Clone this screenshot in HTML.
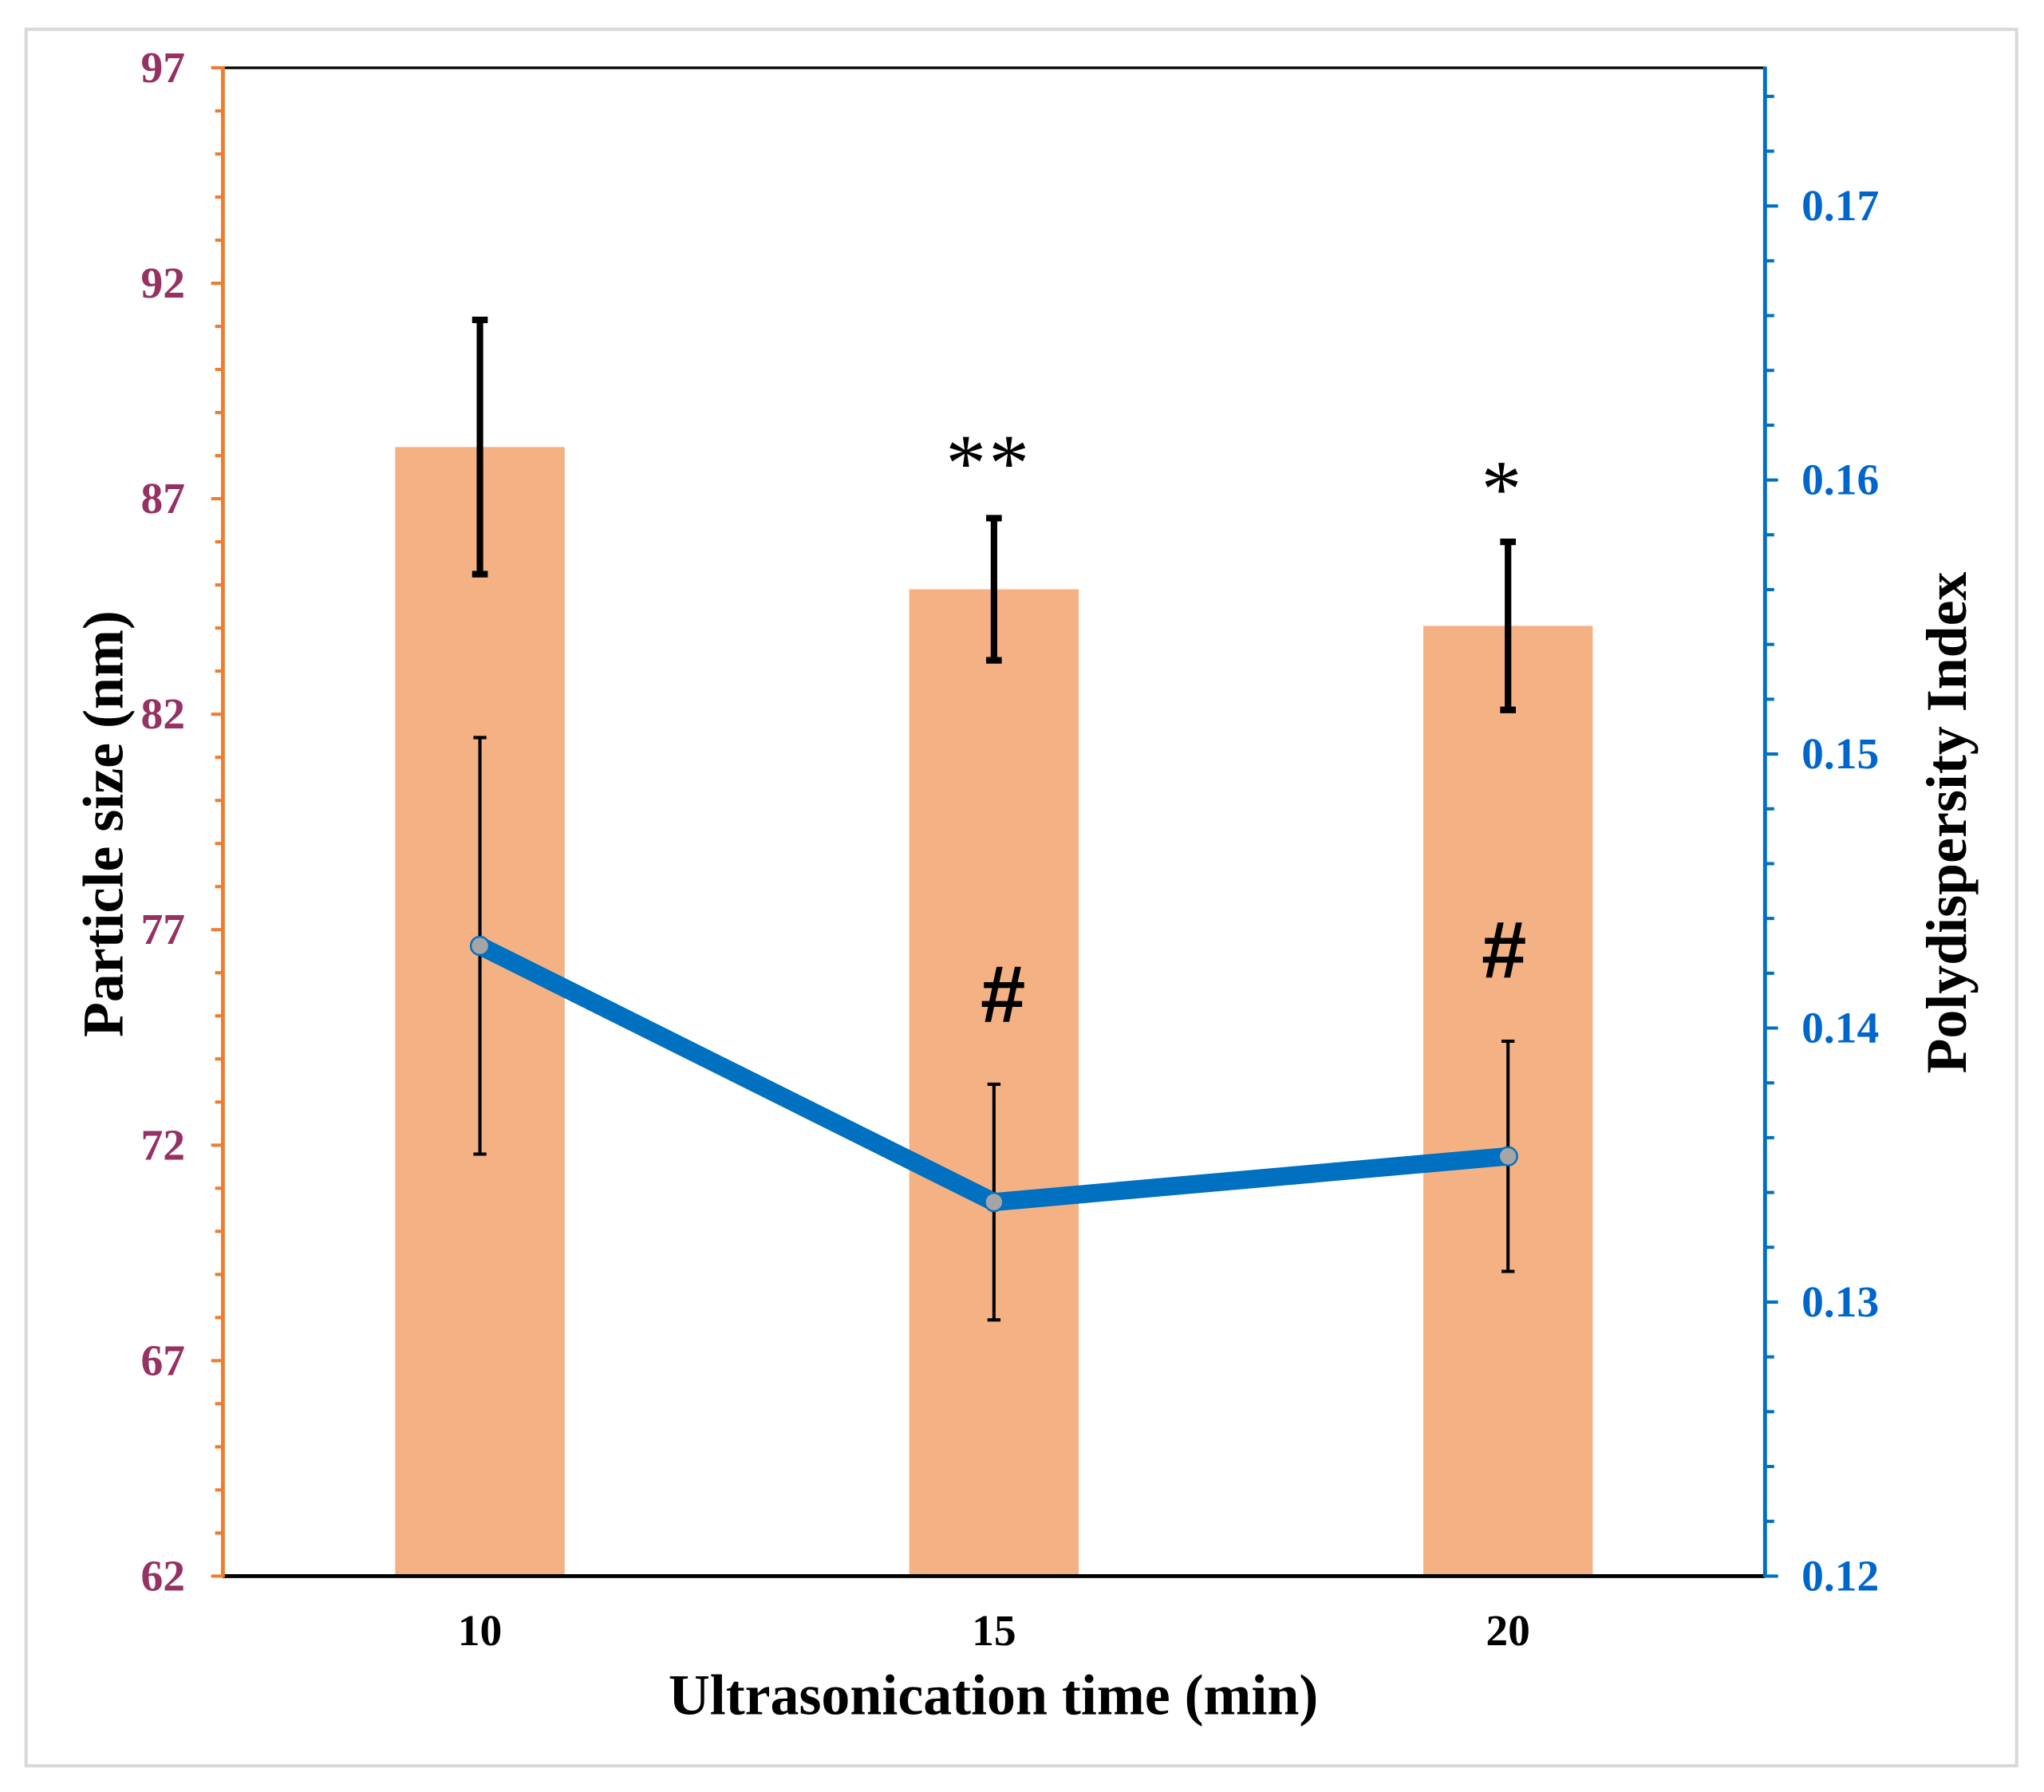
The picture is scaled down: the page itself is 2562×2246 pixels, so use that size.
<!DOCTYPE html>
<html><head><meta charset="utf-8"><style>
html,body{margin:0;padding:0;background:#fff;}
svg{display:block;font-family:"Liberation Serif",serif;}
</style></head><body>
<svg id="chart" width="2562" height="2246" viewBox="0 0 1568 1374.6" xmlns="http://www.w3.org/2000/svg">
<rect x="20" y="22.5" width="1527" height="1332" fill="#fff" stroke="#d9d9d9" stroke-width="2.5"/>
<g id="plot"></g>
</svg>
<script>
const categories = ["10", "15", "20"];
const sizeValues = [88.2, 84.9, 84.05];
const sizeErrors = [2.95, 1.65, 1.95];
const pdiValues = [0.1430, 0.13365, 0.13532];
const pdiErrors = [0.0076, 0.0043, 0.0042];
const topMarks = ["", "**", "*"];
const hashMarks = ["", "#", "#"];
const leftTicks = [62, 67, 72, 77, 82, 87, 92, 97];
const rightTicks = ["0.12", "0.13", "0.14", "0.15", "0.16", "0.17"];

const NS = "http://www.w3.org/2000/svg";
const L = 171, R = 1354, T = 52, B = 1209;
const yL = v => B - (v - 62) / 35 * (B - T);
const yR = v => B - (v - 0.12) / 0.01 * 210.2;
const xC = i => L + (i + 0.5) * (R - L) / categories.length;
const g = document.getElementById('plot');
function mk(tag, attrs, parent) {
  const e = document.createElementNS(NS, tag);
  for (const k in attrs) e.setAttribute(k, attrs[k]);
  (parent || g).appendChild(e);
  return e;
}

categories.forEach((c, i) => {
  const b = mk('rect', {x: xC(i) - 65, y: yL(sizeValues[i]), width: 130, height: B - yL(sizeValues[i]), fill: '#F4B183'});
  
  
});

const topBorder = mk('line', {x1: L, y1: T, x2: R, y2: T, stroke: '#000', 'stroke-width': 2});


const xa = mk('line', {x1: L, y1: B, x2: R, y2: B, stroke: '#000', 'stroke-width': 3});


const la = mk('line', {x1: L, y1: T - 1, x2: L, y2: B + 1, stroke: '#ED7D31', 'stroke-width': 3});


for (let v = 62; v <= 97; v++) {
  const t = mk('line', {x1: L - (v % 5 === 2 ? 9 : 6), y1: yL(v), x2: L, y2: yL(v), stroke: '#ED7D31', 'stroke-width': 2.5});
  
  
}
leftTicks.forEach(v => {
  const t = mk('text', {x: 142, y: yL(v) + 11, 'text-anchor': 'end', 'font-size': 34, 'font-weight': 'bold', fill: '#953163'});
  t.textContent = v;
  
  
});
const ra = mk('line', {x1: R, y1: T - 1, x2: R, y2: B + 1, stroke: '#0070C0', 'stroke-width': 3});


for (let k = 0; k <= 27; k++) {
  const y = B - k * 42.04;
  if (y < T - 1) break;
  const t = mk('line', {x1: R, y1: y, x2: R + (k % 5 === 0 ? 10 : 7), y2: y, stroke: '#0070C0', 'stroke-width': 2.5});
  
  
}
rightTicks.forEach(v => {
  const t = mk('text', {x: 1382, y: yR(+v) + 11, 'font-size': 34, 'font-weight': 'bold', fill: '#0066CC'});
  t.textContent = v;
  
  
});
categories.forEach((c, i) => {
  const t = mk('text', {x: xC(i), y: 1262, 'text-anchor': 'middle', 'font-size': 34, 'font-weight': 'bold', fill: '#000'});
  t.textContent = c;
  
  
});

categories.forEach((c, i) => {
  const x = xC(i), y1 = yL(sizeValues[i] + sizeErrors[i]), y2 = yL(sizeValues[i] - sizeErrors[i]);
  const e = mk('path', {d: `M${x},${y1}V${y2}M${x-6},${y1}H${x+6}M${x-6},${y2}H${x+6}`, stroke: '#000', 'stroke-width': 5, fill: 'none'});
  
  
});
categories.forEach((c, i) => {
  const x = xC(i), y1 = yR(pdiValues[i] + pdiErrors[i]), y2 = yR(pdiValues[i] - pdiErrors[i]);
  const e = mk('path', {d: `M${x},${y1}V${y2}M${x-5},${y1}H${x+5}M${x-5},${y2}H${x+5}`, stroke: '#000', 'stroke-width': 2.5, fill: 'none'});
  
  
});
const pts = categories.map((c, i) => xC(i) + ',' + yR(pdiValues[i])).join(' ');
const pl = mk('polyline', {points: pts, fill: 'none', stroke: '#0070C0', 'stroke-width': 14, 'stroke-linejoin': 'round'});


categories.forEach((c, i) => {
  const m = mk('circle', {cx: xC(i), cy: yR(pdiValues[i]), r: 7, fill: '#A5A5A5', stroke: '#0070C0', 'stroke-width': 1.5});
  
  
});
categories.forEach((c, i) => {
  if (topMarks[i]) {
    const t = mk('text', {x: xC(i) - 4, y: i === 1 ? 376 : 396, 'text-anchor': 'middle', 'font-size': 62, fill: '#000', 'letter-spacing': 2});
    t.textContent = topMarks[i];
    
    
  }
  if (hashMarks[i]) {
    const t = mk('text', {x: xC(i) + (i === 1 ? 6 : -4), y: i === 1 ? 784 : 750, 'text-anchor': 'middle', 'font-size': 62, 'font-weight': 'bold', fill: '#000', 'font-family': 'Liberation Sans, sans-serif', 'font-style': 'italic'});
    t.textContent = hashMarks[i];
    
    
  }
});
const xt = mk('text', {x: 762, y: 1315, 'text-anchor': 'middle', 'font-size': 44, 'font-weight': 'bold', fill: '#000'});
xt.textContent = 'Ultrasonication time (min)';


const yt = mk('text', {x: 0, y: 0, transform: 'translate(94,632) rotate(-90)', 'text-anchor': 'middle', 'font-size': 44, 'font-weight': 'bold', fill: '#000'});
yt.textContent = 'Particle size (nm)';


const y2t = mk('text', {x: 0, y: 0, transform: 'translate(1508,631) rotate(-90)', 'text-anchor': 'middle', 'font-size': 44, 'font-weight': 'bold', fill: '#000'});
y2t.textContent = 'Polydispersity Index';


</script>
</body></html>
